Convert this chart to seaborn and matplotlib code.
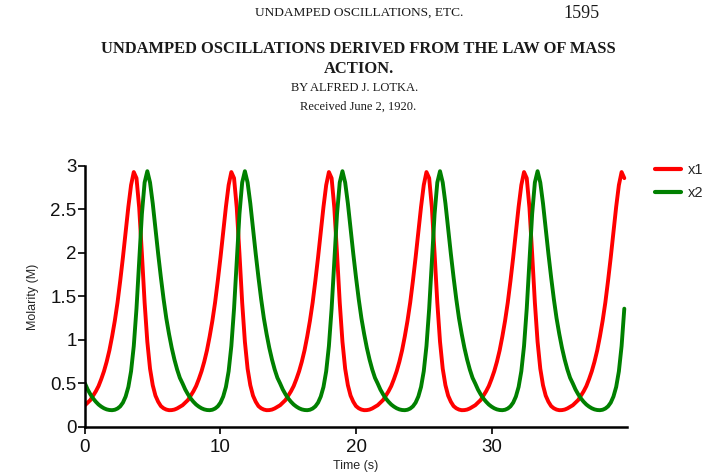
import numpy as np
import pandas as pd
import seaborn as sns
import matplotlib.pyplot as plt

# sampling times (s), one point every 0.2 s
time_s = [round(i * 0.2, 1) for i in range(200)]

# x1 (red), one row per oscillation (~7.2 s)
x1_values = [
    0.25, 0.28, 0.31, 0.36, 0.41, 0.47, 0.55, 0.64, 0.75, 0.88, 1.04, 1.22, 1.43, 1.68, 1.95, 2.24, 2.53, 2.78,
    2.93, 2.86, 2.52, 1.99, 1.43, 0.98, 0.67, 0.48, 0.36, 0.29, 0.24, 0.215, 0.2, 0.193, 0.194, 0.2, 0.213, 0.231,
    0.25, 0.28, 0.31, 0.36, 0.41, 0.47, 0.55, 0.64, 0.75, 0.88, 1.04, 1.22, 1.43, 1.68, 1.95, 2.24, 2.53, 2.78,
    2.93, 2.86, 2.52, 1.99, 1.43, 0.98, 0.67, 0.48, 0.36, 0.29, 0.24, 0.215, 0.2, 0.193, 0.194, 0.2, 0.213, 0.231,
    0.25, 0.28, 0.31, 0.36, 0.41, 0.47, 0.55, 0.64, 0.75, 0.88, 1.04, 1.22, 1.43, 1.68, 1.95, 2.24, 2.53, 2.78,
    2.93, 2.86, 2.52, 1.99, 1.43, 0.98, 0.67, 0.48, 0.36, 0.29, 0.24, 0.215, 0.2, 0.193, 0.194, 0.2, 0.213, 0.231,
    0.25, 0.28, 0.31, 0.36, 0.41, 0.47, 0.55, 0.64, 0.75, 0.88, 1.04, 1.22, 1.43, 1.68, 1.95, 2.24, 2.53, 2.78,
    2.93, 2.86, 2.52, 1.99, 1.43, 0.98, 0.67, 0.48, 0.36, 0.29, 0.24, 0.215, 0.2, 0.193, 0.194, 0.2, 0.213, 0.231,
    0.25, 0.28, 0.31, 0.36, 0.41, 0.47, 0.55, 0.64, 0.75, 0.88, 1.04, 1.22, 1.43, 1.68, 1.95, 2.24, 2.53, 2.78,
    2.93, 2.86, 2.52, 1.99, 1.43, 0.98, 0.67, 0.48, 0.36, 0.29, 0.24, 0.215, 0.2, 0.193, 0.194, 0.2, 0.213, 0.231,
    0.25, 0.28, 0.31, 0.36, 0.41, 0.47, 0.55, 0.64, 0.75, 0.88, 1.04, 1.22, 1.43, 1.68, 1.95, 2.24, 2.53, 2.78,
    2.93, 2.86,
]

# x2 (green)
x2_values = [
    0.5, 0.43, 0.375, 0.328, 0.29, 0.258, 0.234, 0.215, 0.202, 0.195, 0.193, 0.198, 0.212, 0.237, 0.28, 0.35, 0.46, 0.64,
    0.93, 1.36, 1.91, 2.45, 2.81, 2.94, 2.81, 2.57, 2.28, 1.99, 1.72, 1.47, 1.25, 1.07, 0.91, 0.775, 0.66, 0.565,
    0.5, 0.43, 0.375, 0.328, 0.29, 0.258, 0.234, 0.215, 0.202, 0.195, 0.193, 0.198, 0.212, 0.237, 0.28, 0.35, 0.46, 0.64,
    0.93, 1.36, 1.91, 2.45, 2.81, 2.94, 2.81, 2.57, 2.28, 1.99, 1.72, 1.47, 1.25, 1.07, 0.91, 0.775, 0.66, 0.565,
    0.5, 0.43, 0.375, 0.328, 0.29, 0.258, 0.234, 0.215, 0.202, 0.195, 0.193, 0.198, 0.212, 0.237, 0.28, 0.35, 0.46, 0.64,
    0.93, 1.36, 1.91, 2.45, 2.81, 2.94, 2.81, 2.57, 2.28, 1.99, 1.72, 1.47, 1.25, 1.07, 0.91, 0.775, 0.66, 0.565,
    0.5, 0.43, 0.375, 0.328, 0.29, 0.258, 0.234, 0.215, 0.202, 0.195, 0.193, 0.198, 0.212, 0.237, 0.28, 0.35, 0.46, 0.64,
    0.93, 1.36, 1.91, 2.45, 2.81, 2.94, 2.81, 2.57, 2.28, 1.99, 1.72, 1.47, 1.25, 1.07, 0.91, 0.775, 0.66, 0.565,
    0.5, 0.43, 0.375, 0.328, 0.29, 0.258, 0.234, 0.215, 0.202, 0.195, 0.193, 0.198, 0.212, 0.237, 0.28, 0.35, 0.46, 0.64,
    0.93, 1.36, 1.91, 2.45, 2.81, 2.94, 2.81, 2.57, 2.28, 1.99, 1.72, 1.47, 1.25, 1.07, 0.91, 0.775, 0.66, 0.565,
    0.5, 0.43, 0.375, 0.328, 0.29, 0.258, 0.234, 0.215, 0.202, 0.195, 0.193, 0.198, 0.212, 0.237, 0.28, 0.35, 0.46, 0.64,
    0.93, 1.36,
]

series_names = ["x1", "x2"]
series_colors = {"x1": "#ff0000", "x2": "#008000"}

x_ticks = [0, 10, 20, 30]
y_ticks = [0, 0.5, 1, 1.5, 2, 2.5, 3]
y_tick_labels = ["0", "0.5", "1", "1.5", "2", "2.5", "3"]

# paper header
header_left = "UNDAMPED OSCILLATIONS, ETC."
header_page = "1595"
title_lines = ["UNDAMPED OSCILLATIONS DERIVED FROM THE LAW OF MASS", "ACTION."]
byline = "BY ALFRED J. LOTKA."
received = "Received June 2, 1920."


def build_frame():
    rows = []
    for name, vals in zip(series_names, [x1_values, x2_values]):
        for t, v in zip(time_s, vals):
            rows.append({"time": t, "molarity": v, "species": name})
    return pd.DataFrame(rows)


def draw_header(fig):
    serif = ["Liberation Serif", "DejaVu Serif"]
    ink = "#1a1a1a"
    fig.text(0.504, 0.973, header_left, ha="center", va="center", fontsize=9.6,
             family=serif, color=ink)
    fig.text(0.815, 0.971, header_page, ha="center", va="center", fontsize=13,
             family=serif, color=ink)
    fig.text(0.503, 0.896, title_lines[0], ha="center", va="center", fontsize=11.9,
             family=serif, weight="bold", color=ink)
    fig.text(0.503, 0.854, title_lines[1], ha="center", va="center", fontsize=11.9,
             family=serif, weight="bold", color=ink)
    fig.text(0.497, 0.814, byline, ha="center", va="center", fontsize=9.0,
             family=serif, color=ink)
    fig.text(0.502, 0.776, received, ha="center", va="center", fontsize=9.0,
             family=serif, color=ink)


sns.set_style("ticks")
plt.rcParams["font.family"] = ["Liberation Sans", "DejaVu Sans"]

df = build_frame()

fig = plt.figure(figsize=(7.13, 4.75), dpi=100)
ax = fig.add_axes([0.1192, 0.1011, 0.7602, 0.5495])

sns.lineplot(data=df, x="time", y="molarity", hue="species", hue_order=series_names,
             palette=series_colors, estimator=None, linewidth=2.8, ax=ax)

ax.set_xlim(0, 40)
ax.set_ylim(0, 3)
ax.set_xticks(x_ticks)
ax.set_xticklabels([str(v) for v in x_ticks])
ax.set_yticks(y_ticks)
ax.set_yticklabels(y_tick_labels)
sns.despine(ax=ax)
for side in ["left", "bottom"]:
    ax.spines[side].set_linewidth(1.8)
    ax.spines[side].set_color("black")
ax.tick_params(axis="both", direction="out", length=5, width=1.2, color="black",
               labelsize=13.5, labelcolor="#111111")
ax.tick_params(axis="y", pad=1)
ax.tick_params(axis="x", pad=4)

ax.set_xlabel("Time (s)", fontsize=9)
ax.set_ylabel("Molarity (M)", fontsize=9)
ax.xaxis.set_label_coords(0.5, -0.128)
ax.yaxis.set_label_coords(-0.085, 0.5)

leg = ax.legend(loc="upper left", bbox_to_anchor=(655 / 713, 1 - 163 / 475),
                bbox_transform=fig.transFigure, frameon=False, fontsize=10.5,
                handlelength=1.75, handletextpad=0.5, labelspacing=0.62,
                borderaxespad=0, borderpad=0, title=None)
for line in leg.get_lines():
    line.set_linewidth(3)

draw_header(fig)

fig.savefig("out.png", dpi=100)
